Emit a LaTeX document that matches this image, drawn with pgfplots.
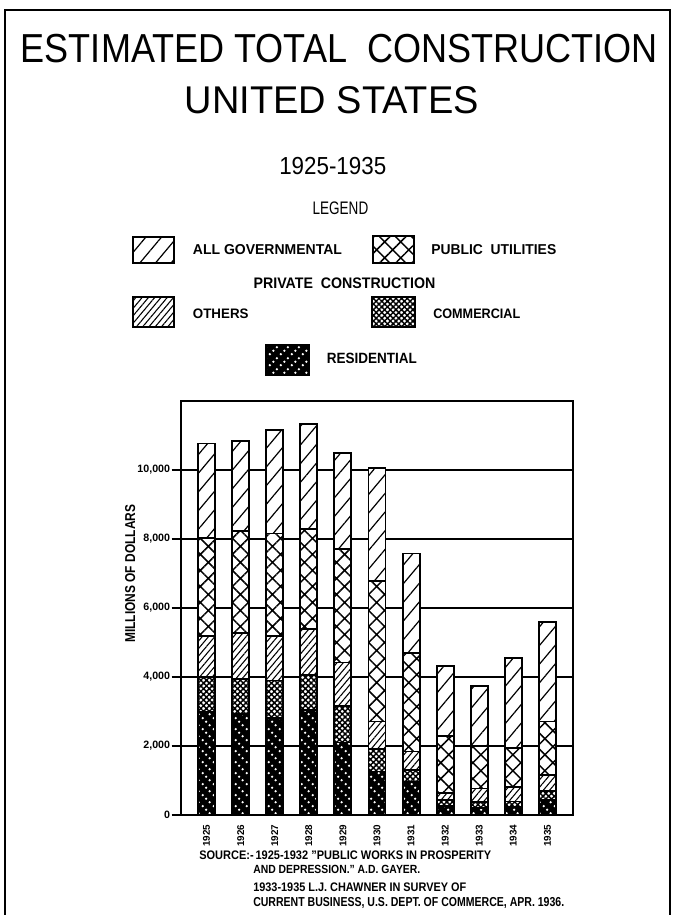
\documentclass[border=0pt]{standalone}
\usepackage{pgfplots}
\pgfplotsset{compat=1.18}
\usepackage{fontspec}
\setmainfont{Liberation Sans}
\usetikzlibrary{patterns,patterns.meta}

\pgfdeclarepatternformonly{resdots}{\pgfpointorigin}{\pgfqpoint{8.4pt}{8.4pt}}{\pgfqpoint{8.4pt}{8.4pt}}{%
  \pgfpathcircle{\pgfqpoint{1.4pt}{7.0pt}}{1.0pt}%
  \pgfpathcircle{\pgfqpoint{4.2pt}{4.2pt}}{1.0pt}%
  \pgfpathcircle{\pgfqpoint{7.0pt}{1.4pt}}{1.0pt}%
  \pgfusepath{fill}}
\pgfdeclarepatternformonly{resdotsB}{\pgfpointorigin}{\pgfqpoint{8.4pt}{8.4pt}}{\pgfqpoint{8.4pt}{8.4pt}}{%
  \pgfpathcircle{\pgfqpoint{1.4pt}{1.4pt}}{1.0pt}%
  \pgfpathcircle{\pgfqpoint{4.2pt}{4.2pt}}{1.0pt}%
  \pgfpathcircle{\pgfqpoint{7.0pt}{7.0pt}}{1.0pt}%
  \pgfusepath{fill}}

\tikzset{
  govpat/.style={preaction={fill=white}, pattern={Lines[angle=50,distance=9pt,line width=0.9pt]}},
  pupat/.style={preaction={fill=white}, pattern={Hatch[angle=45,distance=8.5pt,line width=1.1pt]}},
  othpat/.style={preaction={fill=white}, pattern={Lines[angle=50,distance=3.6pt,line width=0.8pt]}},
  commpat/.style={preaction={fill=white}, pattern={Hatch[angle=45,distance=3pt,line width=1.1pt]}},
  respat/.style={preaction={fill=black}, pattern=resdots, pattern color=white},
}
\newcommand\txt[5]{\node[anchor=base west, inner sep=0pt] at (#1pt,#2pt) {\resizebox{#3pt}{#4pt}{#5}};}

\begin{document}
\begin{tikzpicture}
\path[use as bounding box] (0,0) rectangle (504.75pt,686.25pt);
% frame
\draw[line width=1.8pt] (3.75pt,0) -- (3.75pt,678.75pt) -- (502.5pt,678.75pt) -- (502.5pt,0);

% titles
\txt{15.45}{639}{477.7}{21.2}{ESTIMATED TOTAL\ \ CONSTRUCTION}
\txt{138.4}{601}{220.5}{20.25}{UNITED STATES}
\txt{209.25}{555}{80.25}{12.9}{1925-1935}
\txt{234.3}{525}{41.7}{9.5}{LEGEND}

% legend
\draw[line width=1.4pt, govpat] (99.75pt,488.8pt) rectangle (130.5pt,508.7pt);
\txt{144.5}{495}{111.75}{7.5}{\bfseries ALL\ GOVERNMENTAL}
\draw[line width=1.4pt, pupat] (279.5pt,488.8pt) rectangle (310.5pt,509.25pt);
\txt{323.25}{495}{93.75}{7.5}{\bfseries PUBLIC\ \ UTILITIES}
\txt{190}{470}{136.3}{8.0}{\bfseries PRIVATE\ \ CONSTRUCTION}
\draw[line width=1.4pt, othpat] (99.75pt,441pt) rectangle (130.5pt,463.5pt);
\txt{144.5}{447.4}{41.7}{7.2}{\bfseries OTHERS}
\draw[line width=1.4pt, commpat] (278.8pt,441pt) rectangle (311.25pt,463.5pt);
\txt{324.75}{447.4}{65.25}{7.2}{\bfseries COMMERCIAL}
\draw[line width=1.4pt, preaction={fill=black}, pattern=resdotsB, pattern color=white] (199.5pt,405pt) rectangle (232pt,427.5pt);
\txt{245}{413.25}{67.5}{7.8}{\bfseries RESIDENTIAL}

% y label
\node[anchor=base west, inner sep=0pt, rotate=90] at (101.25pt,204pt) {\resizebox{103.5pt}{7.5pt}{\bfseries MILLIONS\ OF\ DOLLARS}};

\begin{axis}[
  at={(135.75pt,75pt)}, anchor=south west,
  width=294pt, height=310.5pt, scale only axis,
  xmin=-0.75, xmax=10.75, ymin=0, ymax=12000,
  ybar stacked, bar width=12.75pt,
  axis line style={line width=1.3pt},
  xtick={0,...,10},
  xticklabels={1925,1926,1927,1928,1929,1930,1931,1932,1933,1934,1935},
  xtick style={draw=none},
  x tick label style={rotate=90, anchor=east, inner sep=0pt, font=\bfseries\fontsize{7.4}{8}\selectfont},
  xticklabel shift=0pt,
  ytick={0,2000,4000,6000,8000,10000},
  yticklabels={0,{2,000},{4,000},{6,000},{8,000},{10,000}},
  ytick pos=left, tick align=outside, major tick length=7pt,
  y tick style={line width=1pt, black},
  y tick label style={font=\bfseries\fontsize{8}{9}\selectfont, inner sep=0pt, xshift=-1pt},
  ymajorgrids, grid style={black, line width=0.9pt},
  /pgf/number format/assume math mode=true,
  scaled y ticks=false,
  every axis plot/.append style={draw=black, line width=1.4pt},
]
% residential
\addplot[respat] coordinates {(0,3000) (1,2940) (2,2810) (3,3050) (4,2100) (5,1260) (6,950) (7,250) (8,200) (9,220) (10,450)};
% commercial
\addplot[commpat] coordinates {(0,1000) (1,1000) (2,1090) (3,1020) (4,1050) (5,660) (6,350) (7,190) (8,180) (9,170) (10,250)};
% others
\addplot[othpat] coordinates {(0,1200) (1,1340) (2,1280) (3,1330) (4,1270) (5,790) (6,540) (7,210) (8,390) (9,430) (10,460)};
% public utilities
\addplot[pupat] coordinates {(0,2840) (1,2960) (2,2980) (3,2900) (4,3280) (5,4070) (6,2860) (7,1650) (8,1230) (9,1130) (10,1550)};
% all governmental
\addplot[govpat] coordinates {(0,2730) (1,2610) (2,3010) (3,3030) (4,2790) (5,3290) (6,2880) (7,2030) (8,1730) (9,2600) (10,2890)};
\end{axis}

% source
\txt{149.25}{41.25}{219}{6.5}{\bfseries SOURCE:-\,1925-1932\ "PUBLIC\ WORKS\ IN\ PROSPERITY}
\txt{189.75}{30.75}{125.25}{6.2}{\bfseries AND\ DEPRESSION."\ A.D. GAYER.}
\txt{189.75}{17.5}{159.75}{6.5}{\bfseries 1933-1935\ L.J. CHAWNER\ IN\ SURVEY\ OF}
\txt{189.75}{6}{233.25}{6.8}{\bfseries CURRENT\ BUSINESS, U.S. DEPT. OF\ COMMERCE, APR. 1936.}
\end{tikzpicture}
\end{document}
